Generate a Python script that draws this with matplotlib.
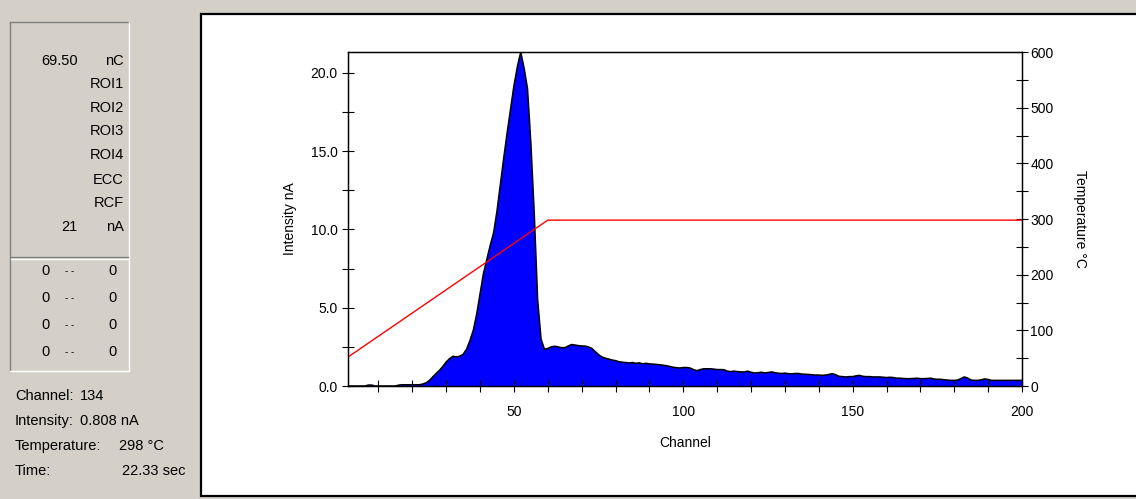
import matplotlib
matplotlib.use('Agg')

from matplotlib import pyplot as plt
from matplotlib.patches import Rectangle
from matplotlib.ticker import MultipleLocator, FormatStrFormatter

# intensity trace (nA) per channel
channels = list(range(1, 201))
intensity = (
    [0.0] * 6 + [0.06, 0.06] + [0.0] * 7 + [0.06, 0.08, 0.08, 0.08, 0.08, 0.08, 0.08, 0.12]       # 1-23
    + [0.2, 0.35, 0.58, 0.8, 1.0, 1.25, 1.54, 1.75, 1.9, 1.86, 1.9, 2.03, 2.35, 2.9, 3.57,       # 24-38
       4.6, 5.9, 7.2, 8.1, 9.0, 9.8, 11.2, 12.9, 14.6, 16.2, 17.7, 19.2, 20.4, 21.34,            # 39-52
       20.3, 19.0, 15.5, 11.0, 5.5, 3.0, 2.35, 2.4, 2.5, 2.54, 2.5, 2.45, 2.45, 2.55,            # 53-66
       2.65, 2.62, 2.58, 2.56, 2.55, 2.5, 2.4, 2.2, 2.0, 1.85, 1.78, 1.72, 1.66, 1.62,           # 67-80
       1.55, 1.52, 1.5, 1.47, 1.5, 1.45, 1.48, 1.42, 1.45, 1.41, 1.40, 1.38, 1.36, 1.33,         # 81-94
       1.30, 1.25, 1.2, 1.17, 1.15, 1.18, 1.18, 1.15, 1.05, 0.98, 1.05, 1.1, 1.1, 1.1,           # 95-108
       1.08, 1.05, 1.05, 1.04, 0.95, 0.92, 0.95, 0.92, 0.9, 0.9, 0.95, 0.88, 0.83, 0.85,         # 109-122
       0.88, 0.84, 0.86, 0.9, 0.86, 0.82, 0.8, 0.82, 0.79, 0.78, 0.8, 0.8, 0.76, 0.75,           # 123-136
       0.74, 0.72, 0.7, 0.7, 0.68, 0.7, 0.74, 0.79, 0.72, 0.62, 0.6, 0.58, 0.6, 0.6,             # 137-150
       0.65, 0.68, 0.62, 0.6, 0.6, 0.58, 0.58, 0.58, 0.56, 0.54, 0.56, 0.54, 0.5, 0.5,           # 151-164
       0.48, 0.47, 0.47, 0.48, 0.5, 0.47, 0.47, 0.48, 0.5, 0.45, 0.43, 0.43, 0.4, 0.38,          # 165-178
       0.36, 0.36, 0.38, 0.48, 0.58, 0.5, 0.38, 0.36, 0.36, 0.4, 0.45, 0.42, 0.36, 0.36,         # 179-192
       0.36, 0.36, 0.36, 0.36, 0.36, 0.36, 0.36, 0.36]                                          # 193-200
)

# temperature program (breakpoints)
temp_channels = [1, 60, 200]
temp_values = [52, 298, 298]

panel_values = [("69.50", "nC"), ("", "ROI1"), ("", "ROI2"), ("", "ROI3"), ("", "ROI4"),
                ("", "ECC"), ("", "RCF"), ("21", "nA")]
roi_rows = [("0", "0"), ("0", "0"), ("0", "0"), ("0", "0")]
cursor_labels = ["Channel:", "Intensity:", "Temperature:", "Time:"]
cursor_values = ["134", "0.808 nA", "298 °C", "22.33 sec"]

plt.rcParams['font.family'] = ['Liberation Sans', 'DejaVu Sans']
GREY = '#d4d0c8'
W, H = 1136, 499

fig = plt.figure(figsize=(W / 100, H / 100), dpi=100, facecolor=GREY)

# background layer in pixel coordinates
bg = fig.add_axes([0, 0, 1, 1])
bg.set_xlim(0, W)
bg.set_ylim(H, 0)
bg.axis('off')
bg.add_patch(Rectangle((201, 14), 960, 482, facecolor='white', edgecolor='black', linewidth=1.6))

# left info box (sunken)
bg.plot([10, 129], [22, 22], color='#808080', lw=1)
bg.plot([10, 10], [22, 371], color='#808080', lw=1)
bg.plot([10, 129], [371, 371], color='white', lw=1)
bg.plot([129, 129], [22, 371], color='white', lw=1)
bg.plot([11, 128], [257, 257], color='#808080', lw=1)
bg.plot([11, 128], [258.5, 258.5], color='white', lw=1)

fs = 10.5
ys = [61, 84, 108, 131, 155, 180, 203, 227]
for (val, unit), y in zip(panel_values, ys):
    if val:
        bg.text(78, y, val, ha='right', va='center', fontsize=fs)
    bg.text(124, y, unit, ha='right', va='center', fontsize=fs)

for (a, b), y in zip(roi_rows, [271, 298, 325, 352]):
    bg.text(50, y, a, ha='right', va='center', fontsize=fs)
    bg.text(70, y, "- -", ha='center', va='center', fontsize=7)
    bg.text(117, y, b, ha='right', va='center', fontsize=fs)

val_x = [(80, 'left'), (80, 'left'), (119, 'left'), (185, 'right')]
for lab, val, (vx, ha), y in zip(cursor_labels, cursor_values, val_x, [396, 421, 446, 471]):
    bg.text(15, y, lab, ha='left', va='center', fontsize=fs)
    bg.text(vx, y, val, ha=ha, va='center', fontsize=fs)

# main chart
ax = fig.add_axes([348 / W, 1 - 386 / H, (1022 - 348) / W, (386 - 52) / H])
ax.fill_between(channels, intensity, facecolor='#0000ff', edgecolor='none')
ax.plot(channels, intensity, color='black', linewidth=1.1)
ax.set_xlim(1, 200)
ax.set_ylim(0, 21.34)
ax.xaxis.set_major_locator(MultipleLocator(50))
ax.xaxis.set_minor_locator(MultipleLocator(10))
ax.yaxis.set_major_locator(MultipleLocator(5))
ax.yaxis.set_minor_locator(MultipleLocator(2.5))
ax.yaxis.set_major_formatter(FormatStrFormatter('%.1f'))
ax.tick_params(which='both', direction='inout', length=8, width=0.8, labelsize=10)
ax.tick_params(axis='x', which='major', pad=10)
ax.set_xlabel("Channel", fontsize=10, labelpad=12)
ax.set_ylabel("Intensity nA", fontsize=10, labelpad=10)
for s in ax.spines.values():
    s.set_linewidth(1.0)

ax2 = ax.twinx()
ax2.plot(temp_channels, temp_values, color='red', linewidth=1.0)
ax2.set_ylim(0, 600)
ax2.yaxis.set_major_locator(MultipleLocator(100))
ax2.yaxis.set_minor_locator(MultipleLocator(50))
ax2.tick_params(which='both', direction='inout', length=8, width=0.8, labelsize=10, pad=2)
ax2.set_ylabel("Temperature °C", fontsize=10, rotation=-90, labelpad=24)

fig.savefig("out.png", dpi=100, facecolor=GREY)
